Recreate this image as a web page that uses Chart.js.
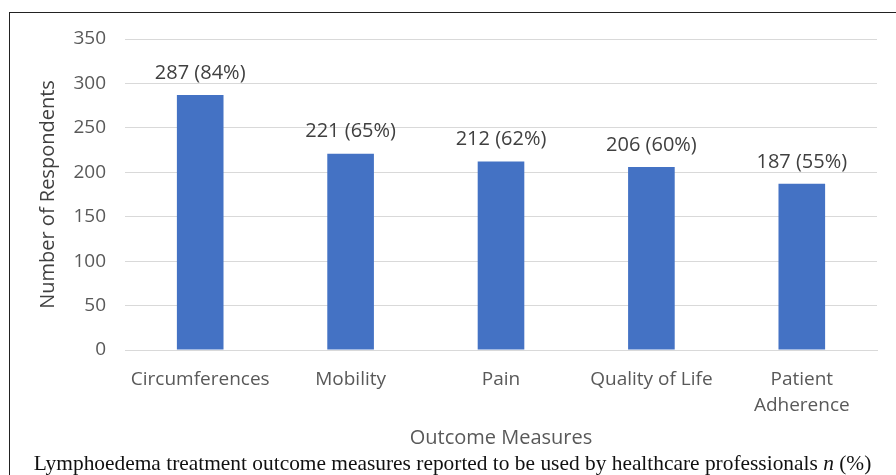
<!DOCTYPE html>
<html>
<head>
<meta charset="utf-8">
<script src="https://cdn.jsdelivr.net/npm/chart.js@4/dist/chart.umd.min.js"></script>
<style>
html, body { margin: 0; padding: 0; background: #fff; width: 896px; height: 475px; overflow: hidden; }
#frame { position: absolute; left: 9px; top: 12px; width: 900px; height: 480px; border-left: 1px solid #222; border-top: 1px solid #222; }
#wrap { position: absolute; left: 0; top: 0; width: 896px; height: 475px; }
#caption { position: absolute; left: 9px; width: 887px; top: 451px; text-align: center; font-family: "Liberation Serif", "DejaVu Serif", serif; font-size: 21.4px; line-height: 24px; color: #111; white-space: nowrap; }
</style>
</head>
<body>
<div id="frame"></div>
<div id="wrap"><canvas id="barChart" width="896" height="475"></canvas></div>
<div id="caption">Lymphoedema treatment outcome measures reported to be used by healthcare professionals <i>n</i> (%)</div>
<script>
// data
var categories = ["Circumferences", "Mobility", "Pain", "Quality of Life", ["Patient", "Adherence"]];
var respondents = [287, 221, 212, 206, 187];
var percents = [84, 65, 62, 60, 55];
var yTicks = [0, 50, 100, 150, 200, 250, 300, 350];

var uiFont = "'Open Sans', sans-serif";

// value labels above bars
var barLabels = {
  id: 'barLabels',
  afterDatasetsDraw: function(chart) {
    var ctx = chart.ctx;
    var meta = chart.getDatasetMeta(0);
    ctx.save();
    ctx.font = "20px " + uiFont;
    ctx.fillStyle = '#404040';
    ctx.textAlign = 'center';
    ctx.textBaseline = 'middle';
    meta.data.forEach(function(bar, i) {
      ctx.fillText(respondents[i] + ' (' + percents[i] + '%)', bar.x, bar.y - 22);
    });
    ctx.restore();
  }
};

var ctxB = document.getElementById("barChart").getContext('2d');
var myBarChart = new Chart(ctxB, {
type: 'bar',
data: {
labels: categories,
datasets: [
{
    label: "Number of Respondents",
    data: respondents,
    backgroundColor: '#4472C4',
    borderWidth: 0,
    categoryPercentage: 1,
    barPercentage: 0.31
}
]
},
options: {
responsive: false,
animation: false,
layout: { padding: { left: 0, top: 39, right: 19, bottom: 25 } },
plugins: { legend: { display: false }, tooltip: { enabled: false } },
scales: {
  x: {
    grid: { display: false, drawTicks: false },
    border: { display: true, color: '#d9d9d9', width: 1 },
    ticks: { color: '#595959', font: { family: uiFont, size: 19, lineHeight: 1.36 }, padding: 17, maxRotation: 0, autoSkip: false },
    title: { display: true, text: 'Outcome Measures', color: '#595959', font: { family: uiFont, size: 20 }, padding: { top: 0, bottom: 0 } },
    afterFit: function(scale) { scale.height = 100; }
  },
  y: {
    min: 0,
    max: 350,
    afterBuildTicks: function(scale) { scale.ticks = yTicks.map(function(v) { return { value: v }; }); },
    grid: { color: '#d9d9d9', drawTicks: false },
    border: { display: false },
    ticks: { color: '#595959', font: { family: uiFont, size: 19 }, padding: 19 },
    title: { display: true, text: 'Number of Respondents', color: '#404040', font: { family: uiFont, size: 20 }, padding: { top: 36, bottom: 0 } },
    afterFit: function(scale) { scale.width = 125; }
  }
}
},
plugins: [barLabels]
});
</script>
</body>
</html>
